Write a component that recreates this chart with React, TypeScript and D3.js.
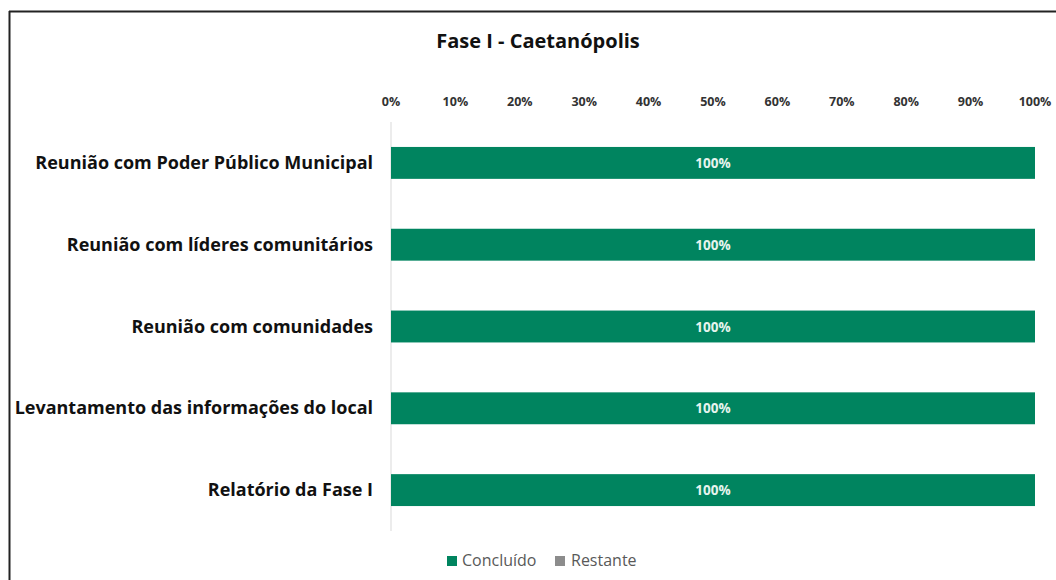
import * as d3 from "d3";

const categories = [
  "Reunião com Poder Público Municipal",
  "Reunião com líderes comunitários",
  "Reunião com comunidades",
  "Levantamento das informações do local",
  "Relatório da Fase I",
];
const concluido = [100, 100, 100, 100, 100];
const restante = [0, 0, 0, 0, 0];
const ticks = [0, 10, 20, 30, 40, 50, 60, 70, 80, 90, 100];

const W = 1056;
const H = 580;
const GREEN = "#00845f";
const GREY = "#8c8c8c";
const FONT = "'Open Sans', Lato, sans-serif";

export default function App() {
  const x = d3.scaleLinear().domain([0, 100]).range([391, 1035]);
  const y = d3.scaleBand<string>().domain(categories).range([122, 531]).paddingInner(0.61).paddingOuter(0.305);

  return (
    <svg width={W} height={H} style={{ position: "absolute", left: 0, top: 0, fontFamily: FONT }}>
      <rect x={0} y={0} width={W} height={H} fill="#fff" />
      {/* frame */}
      <line x1={9.5} y1={11} x2={9.5} y2={H} stroke="#222" strokeWidth={2} />
      <line x1={9} y1={11.5} x2={W} y2={11.5} stroke="#222" strokeWidth={2} />

      <text x={538} y={48} textAnchor="middle" fontSize={20} fontWeight={700} fill="#111">
        Fase I - Caetanópolis
      </text>

      {ticks.map((t) => (
        <text key={t} x={x(t)} y={106} textAnchor="middle" fontSize={12.5} fontWeight={700} fill="#333">
          {t}%
        </text>
      ))}

      <line x1={x(0)} y1={122} x2={x(0)} y2={531} stroke="#d9d9d9" strokeWidth={1} />

      {categories.map((c, i) => {
        const y0 = y(c) as number;
        const bw = y.bandwidth();
        return (
          <g key={c}>
            <rect x={x(0)} y={y0} width={x(concluido[i]) - x(0)} height={bw} fill={GREEN} />
            <rect x={x(concluido[i])} y={y0} width={x(concluido[i] + restante[i]) - x(concluido[i])} height={bw} fill={GREY} />
            <text x={(x(0) + x(concluido[i])) / 2} y={y0 + bw / 2 + 5} textAnchor="middle" fontSize={13.5} fontWeight={700} fill="#e6f4ee">
              {concluido[i]}%
            </text>
            <text x={373} y={y0 + bw / 2 + 6} textAnchor="end" fontSize={18} fontWeight={700} fill="#111">
              {c}
            </text>
          </g>
        );
      })}

      {/* legend */}
      <rect x={447} y={556} width={10} height={10} fill={GREEN} />
      <text x={462} y={566} fontSize={16} fill="#595959">Concluído</text>
      <rect x={555} y={556} width={10} height={10} fill={GREY} />
      <text x={571} y={566} fontSize={16} fill="#595959">Restante</text>
    </svg>
  );
}
